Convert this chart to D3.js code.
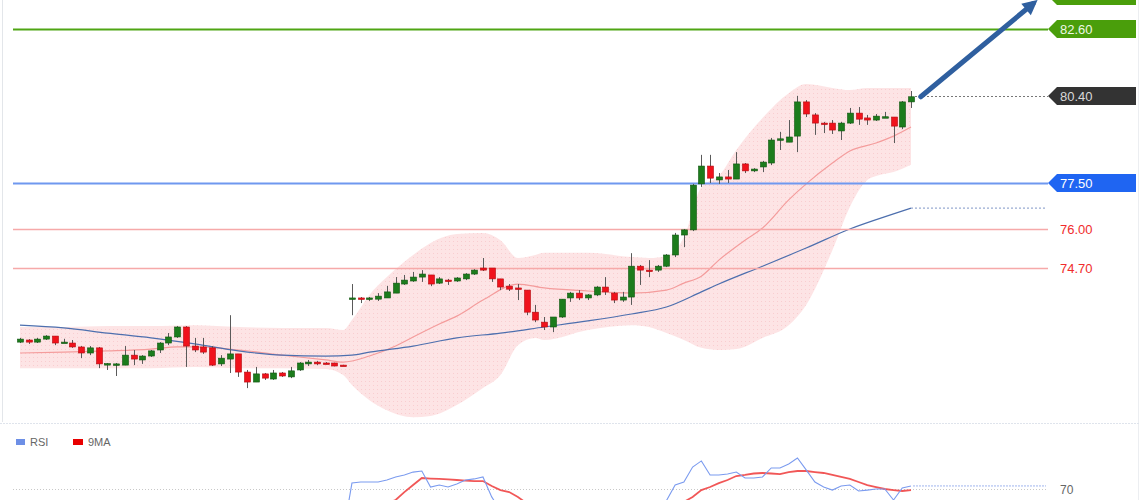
<!DOCTYPE html>
<html>
<head>
<meta charset="utf-8">
<script src="https://cdn.jsdelivr.net/npm/d3@7"></script>
<style>
  body { margin: 0; background: #fff; }
  svg { display: block; font-family: "Liberation Sans", Arial, sans-serif; }
</style>
</head>
<body>
<script>
let w = 1140;
let h = 500;

// candles, one per bar
let opens = [72.25, 72.32, 72.25, 72.35, 72.45, 72.24, 72.22, 72.09, 71.89, 72.06,
             71.53, 71.52, 71.49, 71.82, 71.66, 71.79, 71.99, 72.22, 72.42, 72.75,
             72.12, 72.09, 72.06, 71.53, 71.69, 71.86, 71.26, 70.93, 71.20, 71.03,
             71.23, 71.10, 71.33, 71.53, 71.59, 71.56, 71.56, 71.49, 73.70, 73.71,
             73.70, 73.67, 73.71, 73.87, 74.17, 74.27, 74.40, 74.47, 74.20, 74.30,
             74.27, 74.34, 74.50, 74.70, 74.70, 74.34, 74.10, 74.04, 73.97, 73.24,
             72.91, 72.75, 73.08, 73.71, 73.87, 73.71, 73.81, 74.07, 73.87, 73.64,
             73.74, 74.76, 74.63, 74.63, 74.76, 75.13, 75.79, 75.96, 77.48, 78.07,
             77.61, 77.71, 77.64, 78.14, 77.91, 78.04, 78.17, 78.95, 78.86, 79.06,
             80.19, 79.76, 79.49, 79.49, 79.23, 79.49, 79.82, 79.66, 79.59, 79.69,
             79.69, 79.36, 80.19];
let highs = [72.39, 72.35, 72.39, 72.48, 72.45, 72.36, 72.32, 72.12, 72.12, 72.09,
             71.56, 71.56, 72.12, 71.99, 71.82, 71.99, 72.25, 72.55, 72.78, 72.78,
             72.39, 72.39, 72.12, 71.82, 73.14, 71.86, 71.33, 71.43, 71.23, 71.33,
             71.26, 71.43, 71.59, 71.66, 71.63, 71.59, 71.57, 71.50, 74.17, 73.74,
             73.74, 73.87, 74.11, 74.40, 74.47, 74.57, 74.63, 74.47, 74.40, 74.34,
             74.40, 74.53, 74.66, 75.03, 74.70, 74.34, 74.17, 74.17, 73.97, 73.48,
             73.08, 73.08, 73.67, 73.91, 73.97, 73.84, 74.10, 74.40, 73.91, 73.91,
             75.19, 74.80, 74.96, 74.80, 75.16, 75.86, 75.99, 77.48, 78.44, 78.44,
             77.84, 77.94, 78.53, 78.17, 78.00, 78.24, 79.00, 79.20, 79.59, 80.39,
             80.25, 79.82, 79.53, 79.59, 79.53, 79.99, 80.02, 79.76, 79.79, 79.86,
             79.69, 80.22, 80.55];
let lows = [72.22, 72.19, 72.22, 72.32, 72.15, 72.22, 72.06, 71.72, 71.82, 71.39,
            71.33, 71.13, 71.49, 71.49, 71.53, 71.76, 71.89, 72.15, 72.39, 71.43,
            71.92, 71.86, 71.46, 71.46, 71.23, 71.10, 70.73, 70.93, 71.00, 71.00,
            71.10, 71.06, 71.30, 71.46, 71.49, 71.52, 71.45, 71.47, 73.14, 73.54,
            73.61, 73.61, 73.71, 73.87, 74.14, 74.24, 74.24, 74.10, 74.17, 74.14,
            74.24, 74.30, 74.47, 74.60, 74.24, 73.97, 73.94, 73.64, 73.14, 72.91,
            72.65, 72.58, 73.05, 73.58, 73.64, 73.64, 73.77, 73.81, 73.54, 73.58,
            73.48, 74.14, 74.40, 74.57, 74.73, 75.06, 75.39, 75.92, 77.38, 77.51,
            77.48, 77.51, 77.64, 77.84, 77.87, 77.87, 78.10, 78.60, 78.86, 78.53,
            79.69, 79.10, 79.16, 79.13, 78.93, 79.46, 79.43, 79.43, 79.56, 79.66,
            78.83, 79.29, 79.99];
let closes = [72.35, 72.25, 72.35, 72.45, 72.22, 72.25, 72.09, 71.89, 72.06, 71.53,
              71.54, 71.53, 71.82, 71.69, 71.79, 71.96, 72.22, 72.42, 72.75, 72.12,
              71.99, 71.92, 71.49, 71.72, 71.86, 71.26, 70.93, 71.20, 71.06, 71.23,
              71.13, 71.30, 71.56, 71.59, 71.53, 71.53, 71.46, 71.48, 73.71, 73.70,
              73.71, 73.77, 73.91, 74.20, 74.30, 74.40, 74.50, 74.17, 74.34, 74.28,
              74.37, 74.50, 74.63, 74.63, 74.34, 74.07, 74.00, 74.03, 73.24, 72.98,
              72.75, 73.08, 73.67, 73.87, 73.71, 73.81, 74.07, 73.91, 73.64, 73.74,
              74.76, 74.63, 74.62, 74.76, 75.13, 75.79, 75.96, 77.44, 78.07, 77.67,
              77.71, 77.64, 78.14, 77.91, 77.97, 78.20, 78.93, 78.97, 79.03, 80.19,
              79.79, 79.49, 79.48, 79.26, 79.49, 79.82, 79.62, 79.59, 79.72, 79.70,
              79.39, 80.19, 80.36];

// bollinger band, read at some bars
let bandIdx = [0, 5, 10, 15, 20, 25, 30, 35, 37, 38, 40, 42, 45, 47, 50, 53, 55, 57, 59, 60,
               65, 70, 72, 74, 76, 78, 80, 82, 85, 88, 90, 93, 95, 97, 98, 100, 102];
let bandUpper = [72.75, 72.75, 72.78, 72.78, 72.81, 72.75, 72.72, 72.72, 72.65, 72.98,
                 73.81, 74.40, 75.13, 75.53, 75.82, 75.86, 75.62, 75.03, 75.13, 75.20,
                 75.20, 75.06, 75.03, 75.09, 75.72, 77.38, 77.74, 78.60, 79.66, 80.48,
                 80.78, 80.65, 80.58, 80.65, 80.65, 80.65, 80.65];
let bandLower = [71.39, 71.39, 71.39, 71.39, 71.43, 71.39, 71.39, 71.36, 71.16, 70.83,
                 70.33, 70.00, 69.77, 69.81, 70.17, 70.73, 71.16, 72.15, 72.39, 72.32,
                 72.65, 72.81, 72.75, 72.55, 72.32, 72.06, 71.99, 72.02, 72.39, 72.81,
                 73.48, 75.29, 76.72, 77.61, 77.74, 77.87, 78.11];

let midIdx = [0, 5, 10, 15, 18, 20, 25, 30, 35, 37, 40, 43, 45, 48, 50, 53, 57, 60, 65, 70,
              74, 76, 78, 80, 83, 85, 88, 90, 93, 95, 98, 100, 102];
let midVals = [71.89, 71.92, 71.96, 72.02, 72.09, 72.09, 71.99, 71.82, 71.66, 71.59,
               71.79, 72.12, 72.42, 72.85, 73.11, 73.64, 74.17, 74.04, 73.94, 73.87,
               73.97, 74.20, 74.43, 74.96, 75.62, 76.02, 76.95, 77.48, 78.17, 78.57,
               78.83, 79.06, 79.36];

let maIdx = [0, 5, 10, 15, 20, 25, 30, 35, 38, 40, 45, 50, 55, 60, 65, 70, 74, 78, 80, 85,
             90, 95, 100, 102];
let maVals = [72.81, 72.72, 72.55, 72.39, 72.19, 71.96, 71.82, 71.79, 71.82, 71.92,
              72.12, 72.39, 72.55, 72.75, 72.95, 73.18, 73.41, 73.91, 74.17, 74.76,
              75.36, 75.99, 76.49, 76.68];

// horizontal levels (the first one sits above the visible area, only its box edge shows)
let levelValues = [83.70, 82.60, 80.40, 77.50, 76.00, 74.70];
let levelLabels = ["", "82.60", "80.40", "77.50", "76.00", "74.70"];
let levelKinds = ["target", "target", "last", "pivot", "support", "support"];

// RSI panel
let rsiVals = [52, 50, 53, 55, 48, 49, 45, 40, 44, 38, 37, 36, 45, 43, 46, 50, 55, 58, 62, 50,
               47, 46, 40, 44, 46, 38, 33, 38, 36, 40, 38, 42, 48, 50, 49, 48, 46, 45, 73.3, 73.9,
               73.9, 73.9, 75, 76.7, 77.8, 79.4, 80, 71.1, 72.2, 71.1, 72.8, 75, 75.6, 76.7, 65.6, 58,
               54, 54, 44, 40, 36, 45, 55, 58, 56, 57, 60, 55, 50, 52, 62, 61, 60, 62, 63.5, 72.2,
               73.9, 82.2, 85.6, 77.8, 77.8, 78.3, 79.4, 76.1, 76.1, 76.7, 81.7, 81.7, 83.9, 87.2,
               80.6, 73.9, 71.1, 69.4, 71.7, 72.2, 68.9, 69.4, 70, 70, 63.9, 70.6, 71.7];
let rsiMaVals = [50, 50, 51, 51, 51, 50, 50, 49, 48, 47, 45, 43, 42, 41, 41, 42, 44, 46, 49, 50,
                 50, 50, 49, 48, 47, 46, 44, 42, 40, 39, 38, 38, 39, 40, 41, 42, 44, 45, 49, 53,
                 57, 60, 62, 63.9, 68.3, 72.2, 76.1, 75.8, 75.6, 75.3, 75, 74.7, 74.4, 74.4, 71.7,
                 69.4, 68.3, 65.6, 62, 59, 56, 53, 51, 50, 49, 49, 50, 51, 52, 53, 55, 56, 57, 58,
                 59, 61, 62.8, 65.6, 69.4, 71.1, 73.3, 75, 77.2, 77.8, 78.6, 78.9, 78.6, 78.3, 79.4,
                 80, 80, 79.4, 78.9, 77.8, 76.7, 75.6, 73.9, 72.2, 71.1, 70, 69.4, 68.9, 69.4];
let rsiLevel = 70;

let n = opens.length;
let x = d3.scaleLinear().domain([0, n - 1]).range([20, 911]);
let y = d3.scaleLinear().domain([74.7, 82.6]).range([268, 29]);
let yR = d3.scaleLinear().domain([30, 70]).range([561, 489]);

let svg = d3.select("body")
            .append("svg")
            .attr("width", w)
            .attr("height", h);

let defs = svg.append("defs");
defs.append("clipPath").attr("id", "mainClip")
    .append("rect").attr("x", 0).attr("y", 0).attr("width", w).attr("height", 421);
defs.append("clipPath").attr("id", "rsiClip")
    .append("rect").attr("x", 0).attr("y", 424).attr("width", w).attr("height", 76);
let dots = defs.append("pattern").attr("id", "bandDots")
    .attr("patternUnits", "userSpaceOnUse").attr("width", 4).attr("height", 4);
dots.append("rect").attr("width", 4).attr("height", 4).attr("fill", "#fde4e5");
dots.append("rect").attr("x", 1).attr("y", 1).attr("width", 1).attr("height", 1).attr("fill", "#f9cdd0");
defs.append("marker").attr("id", "arrowHead")
    .attr("markerUnits", "userSpaceOnUse")
    .attr("viewBox", "0 0 10 10")
    .attr("refX", 6).attr("refY", 5)
    .attr("markerWidth", 17).attr("markerHeight", 15)
    .attr("orient", "auto")
    .append("path").attr("d", "M0,0 L10,5 L0,10 z").attr("fill", "#2f5f9f");

// frame
svg.append("line").attr("x1", 2.5).attr("x2", 2.5).attr("y1", 0).attr("y2", 422)
   .attr("stroke", "#e3e6ea");
svg.append("line").attr("x1", 1138.5).attr("x2", 1138.5).attr("y1", 0).attr("y2", 500)
   .attr("stroke", "#eceef1");
svg.append("line").attr("x1", 0).attr("x2", w).attr("y1", 423.5).attr("y2", 423.5)
   .attr("stroke", "#dfe4ec").attr("stroke-dasharray", "2,1");

let main = svg.append("g").attr("clip-path", "url(#mainClip)");

// band
let bandData = bandIdx.map(function(d, i) { return [d, bandUpper[i], bandLower[i]]; });
main.append("path")
    .datum(bandData)
    .attr("d", d3.area()
        .x(function(d) { return x(d[0]); })
        .y0(function(d) { return y(d[2]); })
        .y1(function(d) { return y(d[1]); })
        .curve(d3.curveMonotoneX))
    .attr("fill", "url(#bandDots)");

let lineGen = d3.line()
    .x(function(d) { return x(d[0]); })
    .y(function(d) { return y(d[1]); })
    .curve(d3.curveMonotoneX);

main.append("path")
    .datum(midIdx.map(function(d, i) { return [d, midVals[i]]; }))
    .attr("d", lineGen)
    .attr("fill", "none")
    .attr("stroke", "#f49c9c")
    .attr("stroke-width", 1.2);

main.append("path")
    .datum(maIdx.map(function(d, i) { return [d, maVals[i]]; }))
    .attr("d", lineGen)
    .attr("fill", "none")
    .attr("stroke", "#4d6fae")
    .attr("stroke-width", 1.2);
main.append("line")
    .attr("x1", x(n - 1)).attr("x2", 1046)
    .attr("y1", y(maVals[maVals.length - 1])).attr("y2", y(maVals[maVals.length - 1]))
    .attr("stroke", "#7f95c6").attr("stroke-width", 1).attr("stroke-dasharray", "2,2");

// levels
let levelStyle = {
    target:  { line: "#4fa514", width: 2, box: "#4a9e0b", text: "#eef8e6" },
    last:    { line: "#777", width: 1, box: "#333333", text: "#d8d8d8" },
    pivot:   { line: "#6f98ef", width: 2, box: "#1f65f2", text: "#ffffff" },
    support: { line: "#f6a9a9", width: 1.6, box: null, text: "#f02c2c" }
};
levelValues.forEach(function(v, i) {
    let s = levelStyle[levelKinds[i]];
    let yy = Math.round(y(v)) + 0.5;
    if (levelKinds[i] === "last") {
        main.append("line")
            .attr("x1", x(n - 1) + 4).attr("x2", 1048)
            .attr("y1", yy).attr("y2", yy)
            .attr("stroke", s.line).attr("stroke-dasharray", "2,2");
    } else {
        main.append("line")
            .attr("x1", 13).attr("x2", 1048)
            .attr("y1", yy).attr("y2", yy)
            .attr("stroke", s.line).attr("stroke-width", s.width);
    }
});

// candles
let candles = main.selectAll("g.candle")
    .data(d3.range(n))
    .enter()
    .append("g")
    .attr("class", "candle");
candles.append("line")
    .attr("x1", function(i) { return Math.round(x(i)) + 0.5; })
    .attr("x2", function(i) { return Math.round(x(i)) + 0.5; })
    .attr("y1", function(i) { return y(highs[i]); })
    .attr("y2", function(i) { return y(lows[i]); })
    .attr("stroke", "#5a5a5a")
    .attr("stroke-width", 1);
candles.append("rect")
    .attr("x", function(i) { return Math.round(x(i)) - 2.5; })
    .attr("y", function(i) { return y(Math.max(opens[i], closes[i])); })
    .attr("width", 6)
    .attr("height", function(i) {
        return Math.max(1.5, Math.abs(y(opens[i]) - y(closes[i])));
    })
    .attr("fill", function(i) { return closes[i] >= opens[i] ? "#1c7c1c" : "#f0121c"; })
    .attr("stroke", function(i) { return closes[i] >= opens[i] ? "#105510" : "#b50a10"; })
    .attr("stroke-width", 0.6);

// arrow towards the upper target
svg.append("line")
    .attr("x1", x(n) + 1).attr("y1", y(closes[n - 1]))
    .attr("x2", 1033).attr("y2", y(levelValues[0]) + 8)
    .attr("stroke", "#2f5f9f")
    .attr("stroke-width", 5)
    .attr("stroke-linecap", "round")
    .attr("marker-end", "url(#arrowHead)");

// level labels
levelValues.forEach(function(v, i) {
    let s = levelStyle[levelKinds[i]];
    let cy = Math.round(y(v));
    if (s.box) {
        svg.append("path")
            .attr("d", "M1048," + cy + " L1057," + (cy - 9) + " L1136," + (cy - 9) +
                       " L1136," + (cy + 9) + " L1057," + (cy + 9) + " Z")
            .attr("fill", s.box);
    }
    if (levelLabels[i]) {
        svg.append("text")
            .attr("x", 1060)
            .attr("y", cy + 5)
            .attr("font-size", "13px")
            .attr("fill", s.text)
            .text(levelLabels[i]);
    }
});

// RSI panel
svg.append("rect").attr("x", 16).attr("y", 439).attr("width", 9).attr("height", 6).attr("fill", "#6d8fe6");
svg.append("text").attr("x", 30).attr("y", 446).attr("font-size", "11px").attr("fill", "#666").text("RSI");
svg.append("rect").attr("x", 73).attr("y", 439).attr("width", 10).attr("height", 6).attr("fill", "#e80000");
svg.append("text").attr("x", 88).attr("y", 446).attr("font-size", "11px").attr("fill", "#666").text("9MA");

svg.append("line")
    .attr("x1", 13).attr("x2", 1046)
    .attr("y1", yR(rsiLevel) + 0.5).attr("y2", yR(rsiLevel) + 0.5)
    .attr("stroke", "#c8c8c8").attr("stroke-dasharray", "1,2");
svg.append("text").attr("x", 1060).attr("y", yR(rsiLevel) + 5)
   .attr("font-size", "12px").attr("fill", "#666").text(String(rsiLevel));

let rsiG = svg.append("g").attr("clip-path", "url(#rsiClip)");
let rsiLine = d3.line()
    .x(function(d, i) { return x(i); })
    .y(function(d) { return yR(d); });
rsiG.append("path")
    .datum(rsiMaVals)
    .attr("d", rsiLine)
    .attr("fill", "none")
    .attr("stroke", "#ef3a3a")
    .attr("stroke-opacity", 0.85)
    .attr("stroke-width", 1.8);
rsiG.append("path")
    .datum(rsiVals)
    .attr("d", rsiLine)
    .attr("fill", "none")
    .attr("stroke", "#7b9bef")
    .attr("stroke-width", 1.1);
rsiG.append("line")
    .attr("x1", x(n - 1) + 2).attr("x2", 1046)
    .attr("y1", yR(rsiVals[n - 1])).attr("y2", yR(rsiVals[n - 1]))
    .attr("stroke", "#9fb4ee").attr("stroke-dasharray", "2,1");
</script>
</body>
</html>
